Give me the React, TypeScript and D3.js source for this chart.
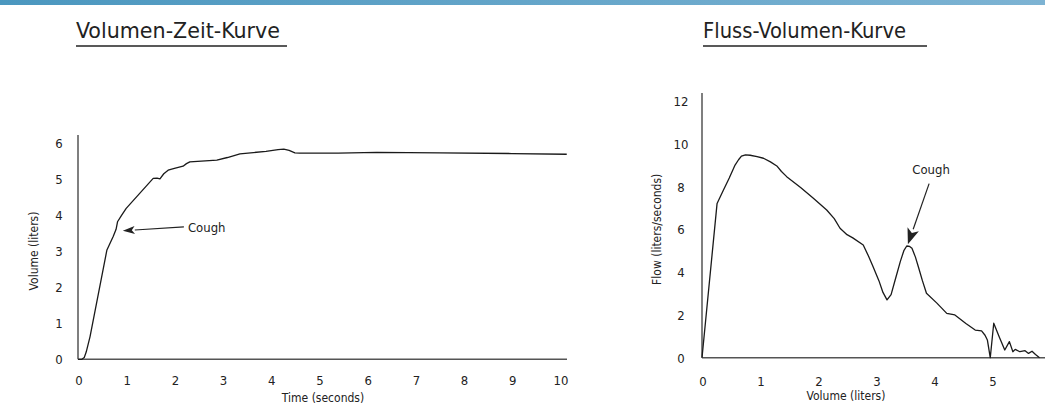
import React, { useRef, useEffect } from "react";
import * as d3 from "d3";

// Volume-time curve (seconds, liters)
const timeSec = [0, 0.08, 0.13, 0.17, 0.25, 0.6, 0.73, 0.79, 0.82, 0.9, 1.0, 1.56, 1.64, 1.7, 1.78, 1.87, 2.0, 2.18, 2.25, 2.32, 2.88, 3.1, 3.36, 3.9, 4.15, 4.27, 4.38, 4.5, 4.6, 5.4, 6.2, 7.5, 9.0, 10.14];
const volumeL = [0, 0, 0.05, 0.2, 0.63, 3.03, 3.4, 3.6, 3.81, 3.98, 4.18, 5.01, 5.02, 5.0, 5.14, 5.24, 5.29, 5.35, 5.42, 5.47, 5.52, 5.59, 5.69, 5.76, 5.81, 5.82, 5.79, 5.72, 5.71, 5.71, 5.73, 5.72, 5.7, 5.68];

// Flow-volume curve (liters, liters/second)
const flowVol = [0, 0.26, 0.37, 0.47, 0.57, 0.63, 0.68, 0.75, 0.83, 0.95, 1.06, 1.18, 1.29, 1.37, 1.46, 1.7, 1.92, 2.15, 2.28, 2.38, 2.5, 2.6, 2.78, 2.87, 2.95, 3.05, 3.12, 3.19, 3.26, 3.33, 3.42, 3.48, 3.53, 3.58, 3.62, 3.68, 3.73, 3.8, 3.87, 4.05, 4.22, 4.36, 4.55, 4.71, 4.82, 4.88, 4.92, 4.97, 5.03, 5.12, 5.22, 5.3, 5.36, 5.4, 5.48, 5.57, 5.63, 5.69, 5.75, 5.82];
const flowRate = [0, 7.21, 7.84, 8.4, 9.0, 9.25, 9.42, 9.48, 9.46, 9.4, 9.32, 9.15, 8.96, 8.7, 8.46, 7.95, 7.45, 6.9, 6.5, 6.05, 5.75, 5.6, 5.27, 4.75, 4.25, 3.6, 3.05, 2.7, 2.95, 3.63, 4.5, 5.0, 5.22, 5.2, 5.11, 4.7, 4.25, 3.6, 3.01, 2.55, 2.07, 2.0, 1.6, 1.29, 1.25, 1.05, 0.83, 0, 1.61, 1.0, 0.36, 0.75, 0.28, 0.39, 0.28, 0.33, 0.2, 0.3, 0.15, 0];

const timeTicks = [0, 1, 2, 3, 4, 5, 6, 7, 8, 9, 10];
const volTicks = [0, 1, 2, 3, 4, 5, 6];
const volumeXTicks = [0, 1, 2, 3, 4, 5];
const flowTicks = [0, 2, 4, 6, 8, 10, 12];

// annotation: [textX, textY, tipX, tipY] in data units
const coughLeft = [2.28, 3.67, 0.93, 3.56];
const coughRight = [3.95, 8.6, 3.55, 5.3];

const FONT = "'Liberation Sans Narrow', 'DejaVu Sans Condensed', 'Roboto Condensed', sans-serif";

function App() {
  const svgRef = useRef<SVGSVGElement>(null);

  useEffect(() => {
    const svg = d3.select(svgRef.current);
    svg.selectAll("*").remove();

    const defs = svg.append("defs");
    const grad = defs.append("linearGradient").attr("id", "topbar");
    grad.append("stop").attr("offset", "0%").attr("stop-color", "#4b97bf");
    grad.append("stop").attr("offset", "100%").attr("stop-color", "#7db3d3");
    svg.append("rect").attr("x", 0).attr("y", 0).attr("width", 1045).attr("height", 5).attr("fill", "url(#topbar)");

    const titles = [
      { text: "Volumen-Zeit-Kurve", x: 76, w: 204, x2: 287 },
      { text: "Fluss-Volumen-Kurve", x: 703, w: 203, x2: 927 },
    ];
    titles.forEach(t => {
      svg.append("text")
        .attr("x", t.x).attr("y", 38)
        .attr("font-family", FONT).attr("font-size", 21)
        .attr("textLength", t.w).attr("lengthAdjust", "spacingAndGlyphs")
        .attr("fill", "#222")
        .text(t.text);
      svg.append("line")
        .attr("x1", t.x).attr("x2", t.x2).attr("y1", 46).attr("y2", 46)
        .attr("stroke", "#222").attr("stroke-width", 1.5);
    });

    const drawArrow = (g: any, x1: number, y1: number, x2: number, y2: number, len: number, wid: number) => {
      const ang = Math.atan2(y2 - y1, x2 - x1);
      const bx = x2 - len * Math.cos(ang), by = y2 - len * Math.sin(ang);
      const px = -Math.sin(ang) * wid / 2, py = Math.cos(ang) * wid / 2;
      g.append("line")
        .attr("x1", x1).attr("y1", y1).attr("x2", bx).attr("y2", by)
        .attr("stroke", "#222").attr("stroke-width", 1.2);
      g.append("path")
        .attr("d", `M${x2},${y2}L${bx + px},${by + py}L${bx + len * 0.25 * Math.cos(ang)},${by + len * 0.25 * Math.sin(ang)}L${bx - px},${by - py}Z`)
        .attr("fill", "#222");
    };

    // ---- left chart ----
    const xL = d3.scaleLinear().domain([0, 10]).range([78, 560]);
    const yL = d3.scaleLinear().domain([0, 6]).range([359.3, 142.7]);
    const gL = svg.append("g");

    gL.append("line").attr("x1", xL(0)).attr("x2", 567).attr("y1", yL(0)).attr("y2", yL(0))
      .attr("stroke", "#555").attr("stroke-width", 1.5);
    gL.append("line").attr("x1", xL(0)).attr("x2", xL(0)).attr("y1", yL(0)).attr("y2", 135)
      .attr("stroke", "#555").attr("stroke-width", 1.5);

    gL.selectAll(".xt").data(timeTicks).join("text")
      .attr("x", d => xL(d) + 1).attr("y", 385)
      .attr("text-anchor", "middle").attr("font-family", FONT).attr("font-size", 13).attr("fill", "#222")
      .text(d => d);
    gL.selectAll(".yt").data(volTicks).join("text")
      .attr("x", 59).attr("y", d => yL(d) + 5)
      .attr("text-anchor", "middle").attr("font-family", FONT).attr("font-size", 13).attr("fill", "#222")
      .text(d => d);

    gL.append("text").attr("x", 323).attr("y", 402).attr("text-anchor", "middle")
      .attr("font-family", FONT).attr("font-size", 12).attr("fill", "#222").text("Time (seconds)");
    gL.append("text").attr("transform", `translate(38,${yL(3)}) rotate(-90)`).attr("text-anchor", "middle")
      .attr("font-family", FONT).attr("font-size", 12).attr("fill", "#222").text("Volume (liters)");

    const leftData = timeSec.map((t, i) => [t, volumeL[i]] as [number, number]);
    gL.append("path")
      .attr("d", d3.line().x(d => xL(d[0])).y(d => yL(d[1])).curve(d3.curveLinear)(leftData))
      .attr("fill", "none").attr("stroke", "#1a1a1a").attr("stroke-width", 1.3).attr("stroke-linejoin", "round");

    drawArrow(gL, xL(coughLeft[0]) - 4, yL(coughLeft[1]), xL(coughLeft[2]), yL(coughLeft[3]), 12, 8);
    gL.append("text").attr("x", xL(coughLeft[0])).attr("y", yL(coughLeft[1]) + 5)
      .attr("font-family", FONT).attr("font-size", 13).attr("fill", "#222").text("Cough");

    // ---- right chart ----
    const xR = d3.scaleLinear().domain([0, 5]).range([702, 992]);
    const yR = d3.scaleLinear().domain([0, 12]).range([357.7, 100.9]);
    const gR = svg.append("g");

    gR.append("line").attr("x1", xR(0)).attr("x2", 1045).attr("y1", yR(0)).attr("y2", yR(0))
      .attr("stroke", "#555").attr("stroke-width", 1.5);
    gR.append("line").attr("x1", xR(0)).attr("x2", xR(0)).attr("y1", yR(0)).attr("y2", 93)
      .attr("stroke", "#555").attr("stroke-width", 1.5);

    gR.selectAll(".xt").data(volumeXTicks).join("text")
      .attr("x", d => xR(d) + 1).attr("y", 386)
      .attr("text-anchor", "middle").attr("font-family", FONT).attr("font-size", 13).attr("fill", "#222")
      .text(d => d);
    gR.selectAll(".yt").data(flowTicks).join("text")
      .attr("x", 681).attr("y", d => yR(d) + 5)
      .attr("text-anchor", "middle").attr("font-family", FONT).attr("font-size", 13).attr("fill", "#222")
      .text(d => d);

    gR.append("text").attr("x", 846).attr("y", 400).attr("text-anchor", "middle")
      .attr("font-family", FONT).attr("font-size", 12).attr("fill", "#222").text("Volume (liters)");
    gR.append("text").attr("transform", `translate(661,${yR(6)}) rotate(-90)`).attr("text-anchor", "middle")
      .attr("font-family", FONT).attr("font-size", 12).attr("fill", "#222").text("Flow (liters/seconds)");

    const rightData = flowVol.map((v, i) => [v, flowRate[i]] as [number, number]);
    gR.append("path")
      .attr("d", d3.line().x(d => xR(d[0])).y(d => yR(d[1])).curve(d3.curveLinear)(rightData))
      .attr("fill", "none").attr("stroke", "#1a1a1a").attr("stroke-width", 1.3).attr("stroke-linejoin", "round");

    gR.append("text").attr("x", xR(coughRight[0])).attr("y", yR(coughRight[1]))
      .attr("text-anchor", "middle").attr("font-family", FONT).attr("font-size", 13).attr("fill", "#222").text("Cough");
    drawArrow(gR, xR(coughRight[0]) - 2, yR(coughRight[1]) + 10, xR(coughRight[2]), yR(coughRight[3]), 16, 12);
  }, []);

  return (
    <div>
      <svg ref={svgRef} width={1045} height={412} style={{ position: "absolute", left: 0, top: 0, background: "#fff" }}></svg>
    </div>
  );
}

export default App;
